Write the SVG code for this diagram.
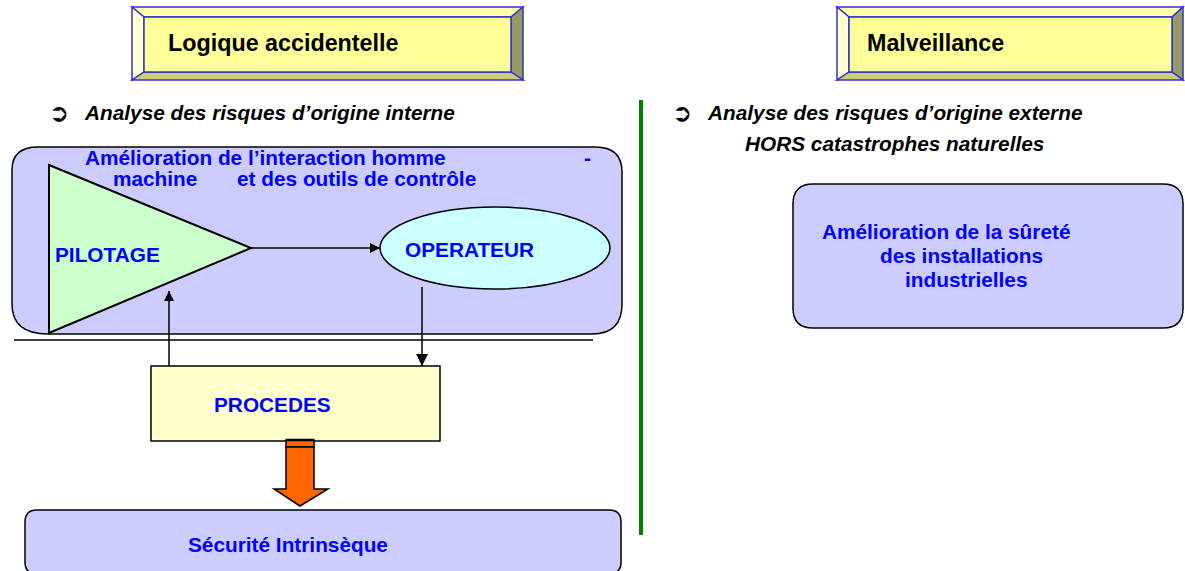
<svg xmlns="http://www.w3.org/2000/svg" width="1185" height="571" viewBox="0 0 1185 571">
<style>
text{font-family:"Liberation Sans",Arial,sans-serif;font-weight:bold}
.blue{fill:#0000FF;font-size:20.8px}
.title{fill:#000;font-size:23.3px}
.bul{fill:#000;font-size:20.8px;font-style:italic}
.sym{fill:#000;font-size:24px;font-family:"DejaVu Sans",sans-serif;font-weight:bold}
.bev{stroke:#3333CC;stroke-width:1.5;stroke-linejoin:miter}
.ln{stroke:#000;stroke-width:1.5;fill:none}
.lav{fill:#CCCCFF;stroke:#000;stroke-width:1.5}
</style>
<defs>
<marker id="ah" viewBox="0 0 10 10" refX="10" refY="5" markerWidth="10" markerHeight="10" markerUnits="userSpaceOnUse" orient="auto">
<path d="M0,0 L10,5 L0,10 Z" fill="#000"/>
</marker>
<marker id="ah2" viewBox="0 0 12 12" refX="12" refY="6" markerWidth="12" markerHeight="12" markerUnits="userSpaceOnUse" orient="auto">
<path d="M0,0 L12,6 L0,12 Z" fill="#000"/>
</marker>
</defs>

<g id="title-logique">
<polygon class="bev" points="132,7 523,7 511,17 144,17" fill="#FFFFB0"/>
<polygon class="bev" points="132,7 144,17 144,72 132,80" fill="#FFFFD0"/>
<polygon class="bev" points="523,7 523,80 511,72 511,17" fill="#999966"/>
<polygon class="bev" points="132,80 144,72 511,72 523,80" fill="#CCCC77"/>
<rect class="bev" x="144" y="17" width="367" height="55" fill="#FFFF99"/>
<text class="title" x="168" y="51">Logique accidentelle</text>
</g>

<g id="title-malveillance">
<polygon class="bev" points="837,7 1183,7 1172,17 849,17" fill="#FFFFB0"/>
<polygon class="bev" points="837,7 849,17 849,72 837,80" fill="#FFFFD0"/>
<polygon class="bev" points="1183,7 1183,80 1172,72 1172,17" fill="#999966"/>
<polygon class="bev" points="837,80 849,72 1172,72 1183,80" fill="#CCCC77"/>
<rect class="bev" x="849" y="17" width="323" height="55" fill="#FFFF99"/>
<text class="title" x="867" y="51">Malveillance</text>
</g>

<g id="bullet-interne">
<text class="sym" x="49" y="121">➲</text>
<text class="bul" x="85" y="120">Analyse des risques d’origine interne</text>
</g>

<g id="bullet-externe">
<text class="sym" x="672" y="121">➲</text>
<text class="bul" x="708" y="120">Analyse des risques d’origine externe</text>
<text class="bul" x="745" y="151">HORS catastrophes naturelles</text>
</g>

<g id="separator">
<line x1="641" y1="100" x2="641" y2="535" stroke="#008000" stroke-width="4"/>
</g>

<g id="ihm-box">
<path class="lav" d="M38,147 L595,147 Q622,147 622,172 L622,304 Q622,334 592,334 L48,334 Q12,334 12,304 L12,170 Q12,147 38,147 Z"/>
<text class="blue" x="85" y="165">Amélioration de l’interaction homme</text>
<text class="blue" x="584" y="165">-</text>
<text class="blue" x="113" y="186">machine</text>
<text class="blue" x="237" y="186">et des outils de contrôle</text>
</g>

<g id="pilotage">
<polygon points="49,165 251,248 49,333" fill="#CCFFCC" stroke="#000" stroke-width="2" stroke-linejoin="miter"/>
<text class="blue" x="55" y="262">PILOTAGE</text>
</g>

<g id="operateur">
<ellipse cx="495" cy="248" rx="115" ry="41" fill="#CCFFFF" stroke="#000" stroke-width="1.5"/>
<text class="blue" x="405" y="257">OPERATEUR</text>
</g>

<g id="procedes">
<rect x="151" y="366" width="289" height="75" fill="#FFFFCC" stroke="#000" stroke-width="1.5"/>
<text class="blue" x="214" y="412">PROCEDES</text>
</g>

<g id="surete-box">
<path class="lav" d="M813,184 L1163,184 Q1183,184 1183,204 L1183,308 Q1183,328 1163,328 L813,328 Q793,328 793,308 L793,204 Q793,184 813,184 Z"/>
<text class="blue" x="822" y="239">Amélioration de la sûreté</text>
<text class="blue" x="880" y="263">des installations</text>
<text class="blue" x="905" y="287">industrielles</text>
</g>

<g id="securite-box">
<path class="lav" d="M37,510 L609,510 Q621,510 621,522 L621,562 Q621,574 609,574 L37,574 Q25,574 25,562 L25,522 Q25,510 37,510 Z"/>
<text class="blue" x="188" y="552">Sécurité Intrinsèque</text>
</g>

<g id="connectors">
<line class="ln" x1="14" y1="340" x2="593" y2="340"/>
<line class="ln" x1="251" y1="248" x2="380" y2="248" marker-end="url(#ah)"/>
<line class="ln" x1="422" y1="287" x2="422" y2="366" marker-end="url(#ah2)"/>
<line class="ln" x1="169" y1="366" x2="169" y2="291" marker-end="url(#ah)"/>
<rect x="286" y="440" width="28" height="7" fill="#FF6600" stroke="#000" stroke-width="1.5"/>
<line x1="286" y1="440" x2="314" y2="440" stroke="#000" stroke-width="2.5"/>
<polygon points="286,447 314,447 314,489 328,489 300,506 274,489 286,489" fill="#FF6600" stroke="#000" stroke-width="1.5" stroke-linejoin="miter"/>
</g>
</svg>
